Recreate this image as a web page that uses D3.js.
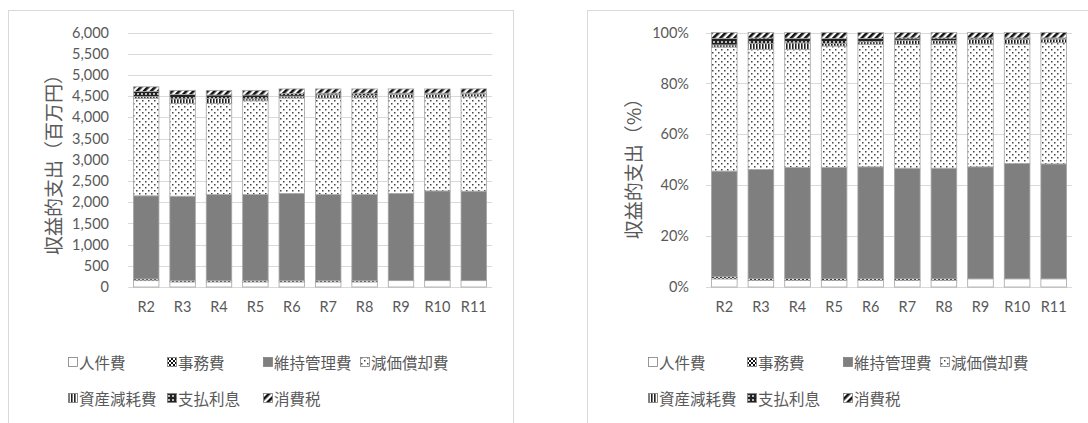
<!DOCTYPE html>
<html>
<head>
<meta charset="utf-8">
<script src="https://cdn.jsdelivr.net/npm/d3@7"></script>
<style>
  html, body { margin: 0; padding: 0; background: #fff; }
  svg { display: block; }
</style>
</head>
<body>
<svg id="chart" width="1088" height="423"></svg>
<script>
// Fiscal years
const categories = ["R2", "R3", "R4", "R5", "R6", "R7", "R8", "R9", "R10", "R11"];

// Series names (stack order, bottom to top)
const seriesNames = ["人件費", "事務費", "維持管理費", "減価償却費", "資産減耗費", "支払利息", "消費税"];

// Revenue expenditure by item (百万円)
const personnel    = [150, 120, 120, 120, 120, 120, 120, 150, 150, 150];
const office       = [40, 30, 30, 30, 30, 30, 30, 0, 0, 0];
const maintenance  = [1960, 1990, 2030, 2030, 2055, 2030, 2030, 2055, 2115, 2110];
const depreciation = [2300, 2190, 2150, 2210, 2250, 2275, 2280, 2255, 2195, 2225];
const assetLoss    = [40, 106, 116, 46, 45, 75, 60, 80, 85, 67];
const interest     = [120, 100, 80, 90, 60, 40, 50, 30, 25, 20];
const consumptionTax = [110, 100, 110, 110, 110, 100, 100, 100, 100, 100];

// Axis ticks
const amountTicks = [0, 500, 1000, 1500, 2000, 2500, 3000, 3500, 4000, 4500, 5000, 5500, 6000];
const shareTicks = [0, 0.2, 0.4, 0.6, 0.8, 1.0];

const seriesValues = [personnel, office, maintenance, depreciation, assetLoss, interest, consumptionTax];
const rows = categories.map((c, i) => {
  const r = { year: c };
  seriesNames.forEach((s, k) => { r[s] = seriesValues[k][i]; });
  return r;
});

const svg = d3.select("#chart");
const grey = "#595959";
const tickFont = "Lato, 'Open Sans', sans-serif";
const jpFont = "'Noto Sans CJK JP', sans-serif";

// Fill patterns, one set per chart
function definePatterns(defs, pre) {
  // 事務費: dense black dots
  let p = defs.append("pattern").attr("id", pre + "office").attr("patternUnits", "userSpaceOnUse")
    .attr("width", 4).attr("height", 4);
  p.append("rect").attr("width", 4).attr("height", 4).attr("fill", "#fff");
  p.append("rect").attr("x", 0).attr("y", 0).attr("width", 2).attr("height", 2).attr("fill", "#111");
  p.append("rect").attr("x", 2).attr("y", 2).attr("width", 2).attr("height", 2).attr("fill", "#111");

  // 減価償却費: sparse grey dots on white
  p = defs.append("pattern").attr("id", pre + "dep").attr("patternUnits", "userSpaceOnUse")
    .attr("width", 6).attr("height", 6);
  p.append("rect").attr("width", 6).attr("height", 6).attr("fill", "#fff");
  p.append("rect").attr("x", 1).attr("y", 1).attr("width", 1.5).attr("height", 1.5).attr("fill", "#444");
  p.append("rect").attr("x", 4).attr("y", 4).attr("width", 1.5).attr("height", 1.5).attr("fill", "#444");

  // 資産減耗費: vertical lines
  p = defs.append("pattern").attr("id", pre + "loss").attr("patternUnits", "userSpaceOnUse")
    .attr("width", 3).attr("height", 3);
  p.append("rect").attr("width", 3).attr("height", 3).attr("fill", "#fff");
  p.append("rect").attr("x", 0).attr("y", 0).attr("width", 1.6).attr("height", 3).attr("fill", "#222");

  // 支払利息: dark field with small light dots
  p = defs.append("pattern").attr("id", pre + "int").attr("patternUnits", "userSpaceOnUse")
    .attr("width", 4).attr("height", 4);
  p.append("rect").attr("width", 4).attr("height", 4).attr("fill", "#222");
  p.append("circle").attr("cx", 2).attr("cy", 2).attr("r", 1).attr("fill", "#eee");

  // 消費税: wide diagonal stripes
  p = defs.append("pattern").attr("id", pre + "tax").attr("patternUnits", "userSpaceOnUse")
    .attr("width", 5).attr("height", 5).attr("patternTransform", "rotate(45)");
  p.append("rect").attr("width", 5).attr("height", 5).attr("fill", "#fff");
  p.append("rect").attr("x", 0).attr("y", 0).attr("width", 2.6).attr("height", 5).attr("fill", "#111");
}

function fills(pre) {
  return {
    "人件費": "#ffffff",
    "事務費": `url(#${pre}office)`,
    "維持管理費": "#7f7f7f",
    "減価償却費": `url(#${pre}dep)`,
    "資産減耗費": `url(#${pre}loss)`,
    "支払利息": `url(#${pre}int)`,
    "消費税": `url(#${pre}tax)`
  };
}

const defs = svg.append("defs");
definePatterns(defs, "a-");
definePatterns(defs, "b-");

// Panel frames
svg.append("rect").attr("x", 8.5).attr("y", 10.5).attr("width", 505).attr("height", 430)
  .attr("fill", "none").attr("stroke", "#d9d9d9");
svg.append("rect").attr("x", 587.5).attr("y", 10.5).attr("width", 530).attr("height", 430)
  .attr("fill", "none").attr("stroke", "#d9d9d9");

function drawChart(opt) {
  const g = svg.append("g");
  const x = d3.scaleBand().domain(categories).range([opt.x0, opt.x1])
    .paddingInner(0.3).paddingOuter(0.15);
  const y = d3.scaleLinear().domain(opt.domain).range([287, 32.5]);

  // Gridlines
  g.append("g").selectAll("line").data(opt.ticks).join("line")
    .attr("x1", opt.x0).attr("x2", opt.x1)
    .attr("y1", d => Math.round(y(d)) + 0.5).attr("y2", d => Math.round(y(d)) + 0.5)
    .attr("stroke", "#d9d9d9").attr("stroke-width", 1);

  // Y axis labels
  const yAxis = d3.axisLeft(y).tickValues(opt.ticks).tickFormat(opt.format).tickSize(0).tickPadding(0);
  const ya = g.append("g").attr("transform", `translate(${opt.labelX},0)`).call(yAxis);
  ya.select(".domain").remove();
  ya.selectAll("text").attr("fill", grey).style("font-family", tickFont).style("font-size", "14.5px");

  // X axis labels
  const xAxis = d3.axisBottom(x).tickSize(0).tickPadding(0);
  const xa = g.append("g").attr("transform", "translate(0,302)").call(xAxis);
  xa.select(".domain").remove();
  xa.selectAll("text").attr("fill", grey).style("font-family", tickFont).style("font-size", "14.5px");

  // Stacked bars
  let stack = d3.stack().keys(seriesNames);
  if (opt.expand) stack = stack.offset(d3.stackOffsetExpand);
  const layers = stack(rows);
  const f = fills(opt.pre);
  g.append("g").selectAll("g").data(layers).join("g")
    .attr("fill", d => f[d.key])
    .selectAll("rect").data(d => d).join("rect")
    .attr("x", d => x(d.data.year))
    .attr("width", x.bandwidth())
    .attr("y", d => y(d[1]))
    .attr("height", d => Math.max(0, y(d[0]) - y(d[1])))
    .attr("stroke", "#a6a6a6").attr("stroke-width", 0.8);

  // Y axis title
  g.append("text")
    .attr("transform", `translate(${opt.titleX},${opt.titleY}) rotate(-90)`)
    .attr("text-anchor", "middle").attr("dominant-baseline", "central")
    .attr("fill", grey).style("font-family", jpFont).style("font-size", "19px")
    .text(opt.title);

  // Legend
  const legendPos = [[0, 0], [99, 0], [195, 0], [292, 0], [0, 36], [99, 36], [195, 36]];
  const lg = g.append("g").attr("transform", `translate(${opt.legendX},362)`);
  seriesNames.forEach((s, i) => {
    const item = lg.append("g").attr("transform", `translate(${legendPos[i][0]},${legendPos[i][1]})`);
    item.append("rect").attr("x", 0.5).attr("y", -4.5).attr("width", 9).attr("height", 9)
      .attr("fill", f[s]).attr("stroke", "#7f7f7f").attr("stroke-width", 0.8);
    item.append("text").attr("x", 11).attr("y", 0).attr("dominant-baseline", "central")
      .attr("fill", grey).style("font-family", jpFont).style("font-size", "15.5px").text(s);
  });
}

drawChart({
  pre: "a-", x0: 128, x1: 492, domain: [0, 6000], ticks: amountTicks,
  format: d3.format(","), labelX: 109, titleX: 52, titleY: 160, title: "収益的支出（百万円）",
  legendX: 68, expand: false
});

drawChart({
  pre: "b-", x0: 706, x1: 1072, domain: [0, 1], ticks: shareTicks,
  format: d3.format(".0%"), labelX: 689, titleX: 632, titleY: 164, title: "収益的支出（%）",
  legendX: 648, expand: true
});
</script>
</body>
</html>
